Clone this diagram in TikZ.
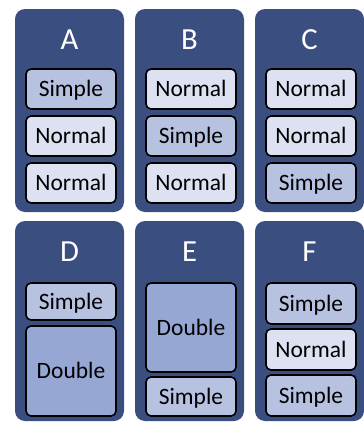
\documentclass[tikz,border=0pt]{standalone}
\usepackage{fontspec}
\setmainfont{Carlito}
\definecolor{panelc}{RGB}{59,78,128}
\definecolor{normalc}{RGB}{221,225,241}
\definecolor{simplec}{RGB}{183,194,224}
\definecolor{doublec}{RGB}{150,167,212}
\tikzset{
  panel/.style={fill=panelc, rounded corners=7.5pt, inner sep=0pt, minimum width=81.75pt},
  ptitle/.style={text=white, font=\fontsize{23}{23}\selectfont, text height=14.8pt, text depth=0pt, inner sep=0pt},
  cell/.style={draw=black, line width=1.2pt, rounded corners=3.75pt, inner sep=0pt,
    minimum width=67.5pt, font=\fontsize{17.6}{17.6}\selectfont, text height=11.3pt, text depth=0pt},
  normalbox/.style={cell, fill=normalc},
  simplebox/.style={cell, fill=simplec},
  doublebox/.style={cell, fill=doublec},
}
\begin{document}
\begin{tikzpicture}[x=0.75pt,y=-0.75pt]
\useasboundingbox (0,0) rectangle (364,422);
% panels
\node[panel, minimum height=152.25pt] (pA) at (69.5,110.5) {};
\node[panel, minimum height=152.25pt] (pB) at (189.5,110.5) {};
\node[panel, minimum height=152.25pt] (pC) at (309.5,110.5) {};
\node[panel, minimum height=150pt] (pD) at (69.5,321) {};
\node[panel, minimum height=150pt] (pE) at (189.5,321) {};
\node[panel, minimum height=150pt] (pF) at (309.5,321) {};
% titles
\node[ptitle] (tA) at (69.5,39.3) {A};
\node[ptitle] (tB) at (189.5,39.3) {B};
\node[ptitle] (tC) at (309.5,39.3) {C};
\node[ptitle] (tD) at (69.5,251.7) {D};
\node[ptitle] (tE) at (189.5,251.7) {E};
\node[ptitle] (tF) at (309.5,251.7) {F};
% row 1 cells (height 40px = 30pt)
\node[simplebox, minimum height=30pt] (a1) at (71,89) {Simple};
\node[normalbox, minimum height=30pt] (a2) at (71,136) {Normal};
\node[normalbox, minimum height=30pt] (a3) at (71,183) {Normal};
\node[normalbox, minimum height=30pt] (b1) at (191,89) {Normal};
\node[simplebox, minimum height=30pt] (b2) at (191,136) {Simple};
\node[normalbox, minimum height=30pt] (b3) at (191,183) {Normal};
\node[normalbox, minimum height=30pt] (c1) at (311,89) {Normal};
\node[normalbox, minimum height=30pt] (c2) at (311,136) {Normal};
\node[simplebox, minimum height=30pt] (c3) at (311,183) {Simple};
% row 2
\node[simplebox, minimum height=27.75pt] (d1) at (71,301.5) {Simple};
\node[doublebox, minimum height=67.5pt] (d2) at (71,371) {Double};
\node[doublebox, minimum height=66.75pt] (e1) at (191,327.5) {Double};
\node[simplebox, minimum height=29.25pt] (e2) at (191,396.5) {Simple};
\node[simplebox, minimum height=30.75pt] (f1) at (311,303.5) {Simple};
\node[normalbox, minimum height=30.75pt] (f2) at (311,349.5) {Normal};
\node[simplebox, minimum height=30.75pt] (f3) at (311,395.5) {Simple};
\end{tikzpicture}
\end{document}
